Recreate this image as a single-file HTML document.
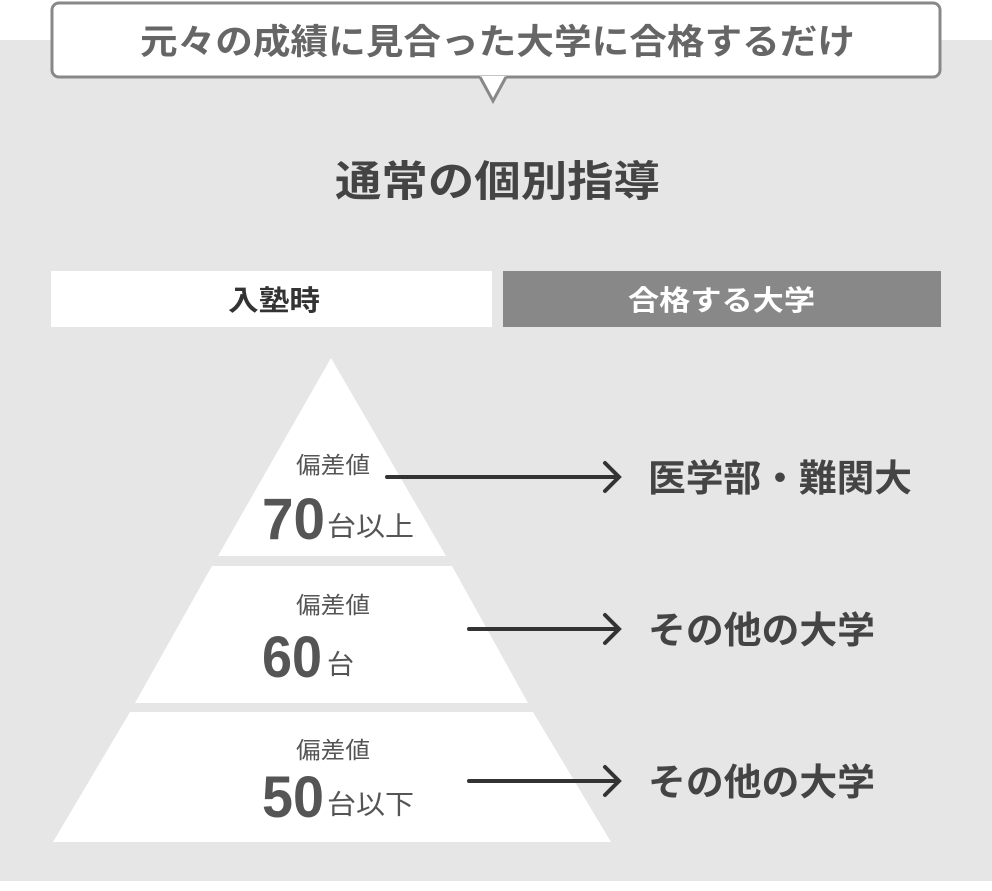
<!DOCTYPE html>
<html><head><meta charset="utf-8"><style>
body{margin:0;width:992px;height:891px;background:#fff;overflow:hidden;font-family:"Liberation Sans","Noto Sans CJK JP",sans-serif;}
</style></head><body>
<svg width="992" height="891" xmlns="http://www.w3.org/2000/svg" style="position:absolute;left:0;top:0">
<rect x="0" y="40" width="992" height="841" fill="#e6e6e6"/>
<rect x="52" y="3" width="888" height="74" rx="7" fill="#fff" stroke="#888" stroke-width="3"/>
<polygon points="480,76 506,76 493,101" fill="#fff"/>
<polyline points="480,77 493,101 506,77" fill="none" stroke="#888" stroke-width="3"/>
<g font-family="Liberation Sans, Noto Sans CJK JP, sans-serif">
<text x="140" y="54" font-size="35" fill="#666" font-weight="bold" textLength="715" lengthAdjust="spacingAndGlyphs">元々の成績に見合った大学に合格するだけ</text>
<text x="335" y="196" font-size="42" fill="#444" font-weight="bold" textLength="325" lengthAdjust="spacingAndGlyphs">通常の個別指導</text>
</g>
<rect x="51" y="271" width="441" height="56" fill="#fff"/>
<rect x="503" y="271" width="438" height="56" fill="#888"/>
<g font-family="Liberation Sans, Noto Sans CJK JP, sans-serif" font-weight="bold" font-size="28">
<text x="228" y="310" fill="#333" textLength="92" lengthAdjust="spacingAndGlyphs">入塾時</text>
<text x="628" y="310" fill="#fff" textLength="187" lengthAdjust="spacingAndGlyphs">合格する大学</text>
</g>
<polygon points="331,358 446,556 218,556" fill="#fff"/>
<polygon points="212,566 452,566 528,703 135,703" fill="#fff"/>
<polygon points="130,712 533,712 611,842 53,842" fill="#fff"/>
<g font-family="Liberation Sans, Noto Sans CJK JP, sans-serif" fill="#555">
<text x="296" y="473" font-size="23" textLength="74" lengthAdjust="spacingAndGlyphs">偏差値</text>
<text x="262" y="539" font-size="58" font-weight="bold" textLength="63" lengthAdjust="spacingAndGlyphs">70</text>
<text x="327" y="536" font-size="27" textLength="87" lengthAdjust="spacingAndGlyphs">台以上</text>
<text x="296" y="613" font-size="23" textLength="74" lengthAdjust="spacingAndGlyphs">偏差値</text>
<text x="262" y="677" font-size="58" font-weight="bold" textLength="60" lengthAdjust="spacingAndGlyphs">60</text>
<text x="327" y="674" font-size="27">台</text>
<text x="296" y="758" font-size="23" textLength="74" lengthAdjust="spacingAndGlyphs">偏差値</text>
<text x="262" y="817" font-size="58" font-weight="bold" textLength="62" lengthAdjust="spacingAndGlyphs">50</text>
<text x="327" y="814" font-size="27" textLength="87" lengthAdjust="spacingAndGlyphs">台以下</text>
</g>
<g stroke="#333" stroke-width="4" fill="none" stroke-linecap="round">
<line x1="387" y1="477" x2="618" y2="477"/><polyline points="605,463 619,477 605,491"/>
<line x1="469" y1="629" x2="618" y2="629"/><polyline points="605,615 619,629 605,643"/>
<line x1="469" y1="781" x2="618" y2="781"/><polyline points="605,767 619,781 605,795"/>
</g>
<g font-family="Liberation Sans, Noto Sans CJK JP, sans-serif" fill="#444" font-weight="bold" font-size="37">
<text x="648" y="491" textLength="264" lengthAdjust="spacingAndGlyphs">医学部・難関大</text>
<text x="648" y="643" textLength="227" lengthAdjust="spacingAndGlyphs">その他の大学</text>
<text x="648" y="795" textLength="227" lengthAdjust="spacingAndGlyphs">その他の大学</text>
</g>
</svg>
</body></html>
